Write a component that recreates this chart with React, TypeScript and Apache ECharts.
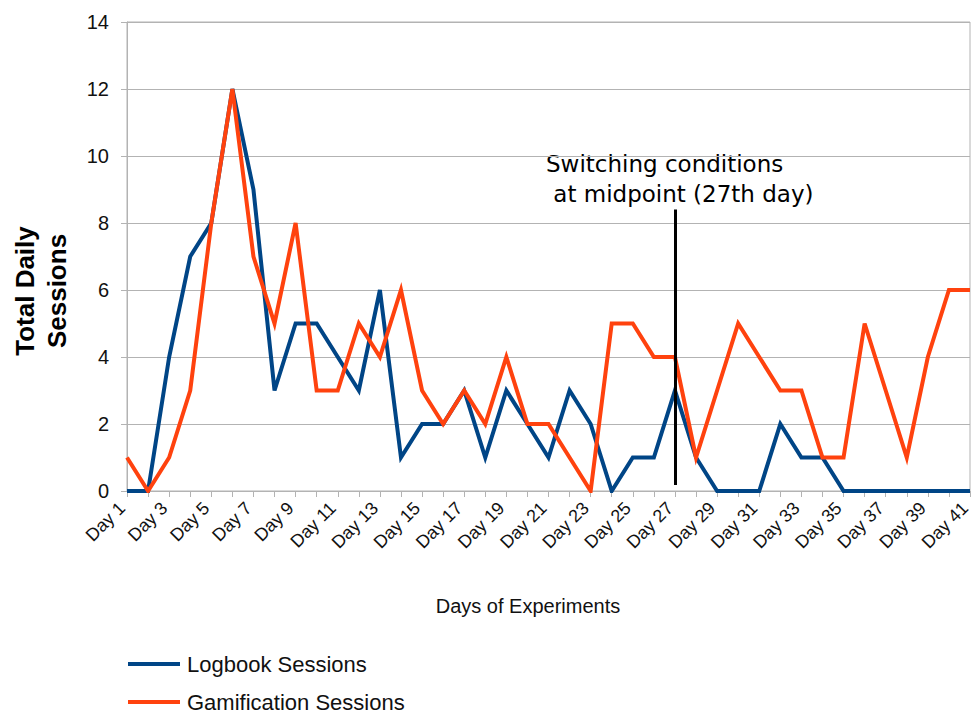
import React, { useEffect, useRef } from "react";
import * as echarts from "echarts";

const days: string[] = Array.from({ length: 41 }, (_, i) => `Day ${i + 1}`);

const logbookSessions: number[] = [
  0, 0, 4, 7, 8, 12, 9, 3, 5, 5, 4, 3, 6, 1, 2, 2, 3, 1, 3, 2, 1, 3, 2, 0, 1, 1, 3,
  1, 0, 0, 0, 2, 1, 1, 0, 0, 0, 0, 0, 0, 0,
];

const gamificationSessions: number[] = [
  1, 0, 1, 3, 8, 12, 7, 5, 8, 3, 3, 5, 4, 6, 3, 2, 3, 2, 4, 2, 2, 1, 0, 5, 5, 4, 4,
  1, 3, 5, 4, 3, 3, 1, 1, 5, 3, 1, 4, 6, 6,
];

const yTicks = { min: 0, max: 14, interval: 2 };
const switchDay = "Day 27";
const switchSpan: [number, number] = [8.4, 0.18];

const FONT = "'Liberation Sans', Arial, sans-serif";
const TEXT = "#111111";
const GRID = "#b3b3b3";

export default function App() {
  const ref = useRef<HTMLDivElement>(null);

  useEffect(() => {
    if (!ref.current) return;
    const chart = echarts.init(ref.current, null, { renderer: "svg" });
    const legendCommon = {
      orient: "horizontal",
      left: 128,
      padding: 0,
      icon: "rect",
      itemWidth: 52,
      itemHeight: 4,
      textStyle: { fontSize: 22, color: TEXT, fontFamily: FONT, padding: [0, 0, 0, 2] },
    };
    chart.setOption({
      animation: false,
      backgroundColor: "#ffffff",
      textStyle: { fontFamily: FONT },
      grid: {
        left: 127,
        right: 2,
        top: 22,
        bottom: 225,
        show: true,
        borderColor: GRID,
        borderWidth: 1,
        containLabel: false,
        outerBoundsMode: "none",
      },
      legend: [
        { ...legendCommon, top: 653, data: ["Logbook Sessions"] },
        { ...legendCommon, top: 691, data: ["Gamification Sessions"] },
      ],
      xAxis: {
        type: "category",
        data: days,
        boundaryGap: false,
        axisLine: { lineStyle: { color: GRID, width: 1 } },
        axisTick: {
          show: true,
          interval: 0,
          length: 6,
          lineStyle: { color: GRID },
        },
        axisLabel: {
          interval: 1,
          rotate: 45,
          fontSize: 18,
          lineHeight: 14,
          verticalAlign: "bottom",
          color: TEXT,
          margin: 19,
          fontFamily: FONT,
        },
        splitLine: { show: false },
      },
      yAxis: {
        type: "value",
        min: yTicks.min,
        max: yTicks.max,
        interval: yTicks.interval,
        axisLine: { show: true, lineStyle: { color: GRID } },
        axisTick: { show: true, length: 6, lineStyle: { color: GRID } },
        axisLabel: { fontSize: 20, color: TEXT, margin: 18, fontFamily: FONT },
        splitLine: { show: true, lineStyle: { color: GRID, width: 1 } },
      },
      graphic: [
        {
          type: "text",
          x: 41,
          y: 291,
          rotation: Math.PI / 2,
          style: {
            text: "Total Daily\nSessions",
            fontSize: 26,
            fontWeight: "bold",
            fontFamily: FONT,
            fill: "#000000",
            align: "center",
            verticalAlign: "middle",
            lineHeight: 32,
          },
        },
        {
          type: "text",
          x: 528,
          y: 606,
          style: {
            text: "Days of Experiments",
            fontSize: 20,
            fontFamily: FONT,
            fill: TEXT,
            align: "center",
            verticalAlign: "middle",
          },
        },
        {
          type: "text",
          x: 546,
          y: 179,
          style: {
            text: "Switching conditions\n at midpoint (27th day)",
            fontSize: 23,
            fontFamily: "'DejaVu Sans', sans-serif",
            fill: "#000000",
            align: "left",
            verticalAlign: "middle",
            lineHeight: 30,
          },
        },
      ],
      series: [
        {
          name: "Logbook Sessions",
          type: "line",
          data: logbookSessions,
          symbol: "none",
          color: "#004586",
          lineStyle: { width: 4, color: "#004586", join: "miter" },
          z: 2,
          markLine: {
            silent: true,
            symbol: "none",
            label: { show: false },
            lineStyle: { color: "#000000", width: 3, type: "solid" },
            data: [
              [
                { coord: [switchDay, switchSpan[0]] },
                { coord: [switchDay, switchSpan[1]] },
              ],
            ],
          },
        },
        {
          name: "Gamification Sessions",
          type: "line",
          data: gamificationSessions,
          symbol: "none",
          color: "#ff420e",
          lineStyle: { width: 4, color: "#ff420e", join: "miter" },
          z: 3,
        },
      ],
    });
    return () => chart.dispose();
  }, []);

  return (
    <div
      ref={ref}
      style={{ position: "fixed", left: 0, top: 0, width: 972, height: 716 }}
    />
  );
}
